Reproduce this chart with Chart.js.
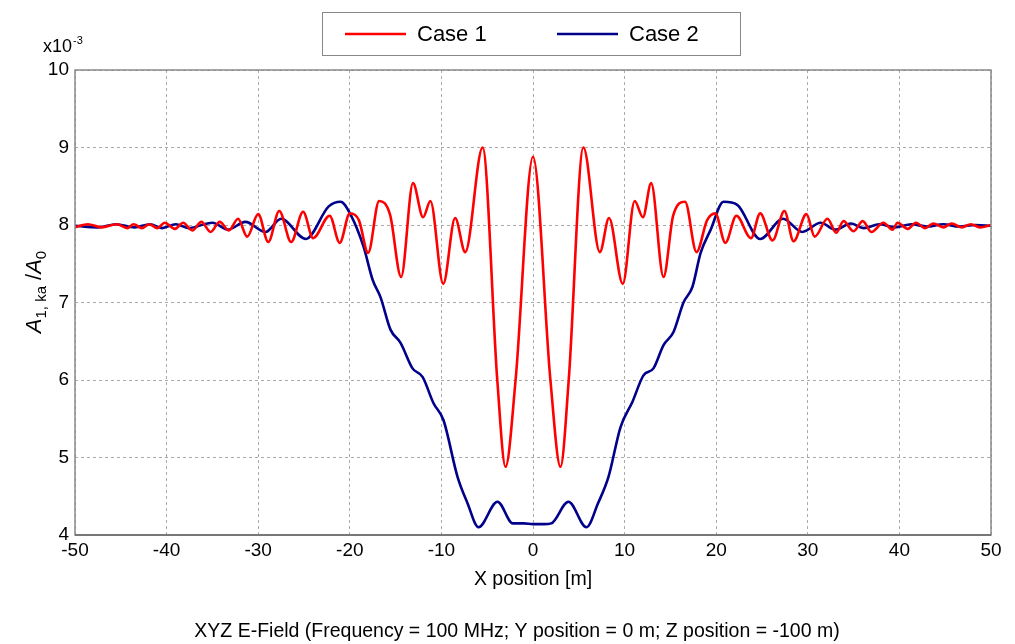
<!DOCTYPE html>
<html lang="en">
<head>
<meta charset="utf-8">
<title>XYZ E-Field</title>
<script src="https://cdn.jsdelivr.net/npm/chart.js@4.4.0/dist/chart.umd.min.js"></script>
<style>
  body { margin: 0; background: #fff; }
  canvas { display: block; }
</style>
</head>
<body>
<canvas id="myChart" width="1015" height="644"></canvas>
<script>
// values, y in units of 1e-3
var case1X = [-50, -48.6, -47.1, -45.4, -44.3, -43.6, -42.7, -41.9, -41.0, -40.2, -39.1, -38.2, -37.2, -36.2, -35.2, -34.2, -33.2, -32.2, -31.2, -30.0,
  -28.9, -27.7, -26.4, -25.1, -24.0, -22.2, -21.1, -20.0, -19.0, -18.0, -16.8, -15.6, -14.4, -13.1, -12.0, -11.2, -9.8, -8.5, -7.4, -5.5,
  -3.9, -3.0, -1.9, 0, 1.9, 3.0, 3.9, 5.5, 7.3, 8.3, 9.8, 11.1, 12.0, 12.9, 14.25, 15.3, 16.6, 17.85, 19.0, 19.9,
  21.0, 22.2, 23.8, 24.8, 26.15, 27.45, 28.45, 29.85, 30.75, 32.15, 33.1, 33.9, 35.0, 36.0, 36.95, 38.25, 39.25, 39.8, 40.9, 41.8,
  42.8, 43.7, 44.8, 45.7, 46.8, 47.8, 48.8, 50];
var case1Y = [7.97, 8.01, 7.97, 8.01, 7.96, 8.01, 7.96, 8.01, 7.96, 8.03, 7.95, 8.03, 7.93, 8.04, 7.91, 8.04, 7.93, 8.08, 7.85, 8.14,
  7.78, 8.18, 7.78, 8.17, 7.83, 8.12, 7.77, 8.15, 8.06, 7.64, 8.31, 8.13, 7.33, 8.54, 8.10, 8.31, 7.24, 8.09, 7.65, 9.0,
  6.0, 4.88, 6.0, 8.88, 6.0, 4.88, 6.0, 9.0, 7.65, 8.09, 7.24, 8.31, 8.10, 8.54, 7.33, 8.12, 8.30, 7.65, 8.06, 8.15,
  7.77, 8.12, 7.83, 8.15, 7.80, 8.18, 7.79, 8.14, 7.85, 8.08, 7.90, 8.05, 7.92, 8.05, 7.91, 8.03, 7.94, 8.03, 7.95, 8.03,
  7.96, 8.02, 7.97, 8.02, 7.97, 8.01, 7.97, 8.00];

var case2X = [-50, -47.5, -45.5, -43.5, -41.8, -40.5, -39.0, -37.6, -35.0, -33.3, -31.4, -29.2, -27.5, -24.8, -22.3, -21.0, -19.9, -18.5, -17.5, -16.65,
  -15.56, -14.46, -13.15, -12.06, -10.86, -9.77, -8.24, -7.15, -5.95, -3.88, -2.2, -1.0, 0, 1.2, 2.0, 3.87, 5.84, 7.1, 8.24, 9.55,
  10.86, 12.06, 13.15, 14.25, 15.34, 16.43, 17.4, 18.3, 19.4, 20.8, 22.3, 24.8, 27.3, 29.4, 31.4, 33.0, 34.7, 36.1, 37.8, 39.5,
  41.3, 43.0, 44.8, 46.5, 48.3, 50];
var case2Y = [7.99, 7.97, 8.01, 7.97, 8.01, 7.96, 8.01, 7.96, 8.03, 7.94, 8.04, 7.91, 8.08, 7.82, 8.24, 8.30, 8.13, 7.72, 7.29, 7.07,
  6.65, 6.48, 6.15, 6.04, 5.70, 5.48, 4.75, 4.41, 4.10, 4.43, 4.15, 4.15, 4.14, 4.14, 4.15, 4.43, 4.10, 4.41, 4.75, 5.39,
  5.72, 6.06, 6.15, 6.45, 6.62, 7.0, 7.2, 7.64, 7.94, 8.30, 8.26, 7.82, 8.08, 7.91, 8.03, 7.94, 8.02, 7.96, 8.01, 7.97,
  8.01, 7.98, 8.01, 7.98, 8.00, 7.99];

var xTicks = [-50, -40, -30, -20, -10, 0, 10, 20, 30, 40, 50];
var yTicks = [4, 5, 6, 7, 8, 9, 10];
var seriesNames = ['Case 1', 'Case 2'];
var seriesColors = ['#ff0000', '#00008b'];

var FONT = "'Liberation Sans', Arial, sans-serif";

function toPoints(xs, ys) {
  return xs.map(function (x, i) { return { x: x, y: ys[i] }; });
}

// legend box, axis titles, frame
var decorations = {
  id: 'decorations',
  afterDraw: function (chart) {
    var ctx = chart.ctx;
    var a = chart.chartArea;
    ctx.save();

    // frame
    ctx.strokeStyle = '#8a8a8a';
    ctx.lineWidth = 1.5;
    ctx.strokeRect(a.left, a.top, a.right - a.left, a.bottom - a.top);
    ctx.strokeStyle = '#777';
    ctx.lineWidth = 2;
    ctx.beginPath();
    ctx.moveTo(a.left, a.bottom);
    ctx.lineTo(a.right, a.bottom);
    ctx.stroke();

    // legend
    ctx.fillStyle = '#fff';
    ctx.fillRect(322.5, 12.5, 418, 43);
    ctx.strokeStyle = '#888';
    ctx.lineWidth = 1;
    ctx.strokeRect(322.5, 12.5, 418, 43);
    var lx = [345, 557];
    ctx.lineWidth = 2.5;
    ctx.font = '22px ' + FONT;
    ctx.textBaseline = 'middle';
    ctx.textAlign = 'left';
    for (var i = 0; i < 2; i++) {
      ctx.strokeStyle = seriesColors[i];
      ctx.beginPath();
      ctx.moveTo(lx[i], 34);
      ctx.lineTo(lx[i] + 61, 34);
      ctx.stroke();
      ctx.fillStyle = '#000';
      ctx.fillText(seriesNames[i], lx[i] + 72, 35);
    }

    // exponent
    ctx.textBaseline = 'alphabetic';
    ctx.font = '18px ' + FONT;
    ctx.fillText('x10', 43, 52);
    var w = ctx.measureText('x10').width;
    ctx.font = '11px ' + FONT;
    ctx.fillText('-3', 43 + w + 1, 44);

    // x title and bottom caption
    ctx.textAlign = 'center';
    ctx.font = '19.5px ' + FONT;
    ctx.fillText('X position [m]', (a.left + a.right) / 2, 585);
    ctx.fillText('XYZ E-Field (Frequency = 100 MHz; Y position = 0 m; Z position = -100 m)', 517, 637);

    // y title: A_{1,ka}/A_0
    var parts = [
      { t: 'A', f: 'italic 22px ' + FONT, dy: 0 },
      { t: '1, ka', f: '15px ' + FONT, dy: 5 },
      { t: ' /', f: '22px ' + FONT, dy: 0 },
      { t: 'A', f: 'italic 22px ' + FONT, dy: 0 },
      { t: '0', f: '15px ' + FONT, dy: 5 }
    ];
    var total = 0;
    parts.forEach(function (p) { ctx.font = p.f; p.w = ctx.measureText(p.t).width; total += p.w; });
    ctx.translate(41, 292);
    ctx.rotate(-Math.PI / 2);
    ctx.textAlign = 'left';
    var px = -total / 2;
    parts.forEach(function (p) {
      ctx.font = p.f;
      ctx.fillText(p.t, px, p.dy);
      px += p.w;
    });
    ctx.restore();
  }
};

var config = {
  type: 'line',
  data: {
    datasets: [{
      label: seriesNames[0],
      data: toPoints(case1X, case1Y),
      borderColor: seriesColors[0],
      borderWidth: 2.6,
      pointRadius: 0,
      cubicInterpolationMode: 'monotone'
    }, {
      label: seriesNames[1],
      data: toPoints(case2X, case2Y),
      borderColor: seriesColors[1],
      borderWidth: 2.6,
      pointRadius: 0,
      cubicInterpolationMode: 'monotone'
    }]
  },
  options: {
    responsive: false,
    animation: false,
    layout: { padding: { left: 0, right: 24, top: 70, bottom: 0 } },
    plugins: {
      legend: { display: false },
      tooltip: { enabled: false }
    },
    scales: {
      x: {
        type: 'linear',
        min: xTicks[0],
        max: xTicks[xTicks.length - 1],
        afterBuildTicks: function (s) { s.ticks = xTicks.map(function (v) { return { value: v }; }); },
        afterFit: function (s) { s.height = 109; },
        ticks: { color: '#000', font: { size: 19, family: FONT }, padding: 4, maxRotation: 0 },
        grid: { color: '#aaa', drawTicks: false },
        border: { display: false, dash: [3, 3] }
      },
      y: {
        min: yTicks[0],
        max: yTicks[yTicks.length - 1],
        afterBuildTicks: function (s) { s.ticks = yTicks.map(function (v) { return { value: v }; }); },
        afterFit: function (s) { s.width = 75; },
        ticks: { color: '#000', font: { size: 19, family: FONT }, padding: 6 },
        grid: { color: '#aaa', drawTicks: false },
        border: { display: false, dash: [3, 3] }
      }
    }
  },
  plugins: [decorations]
};

var myChart = new Chart(document.getElementById('myChart'), config);
</script>
</body>
</html>
